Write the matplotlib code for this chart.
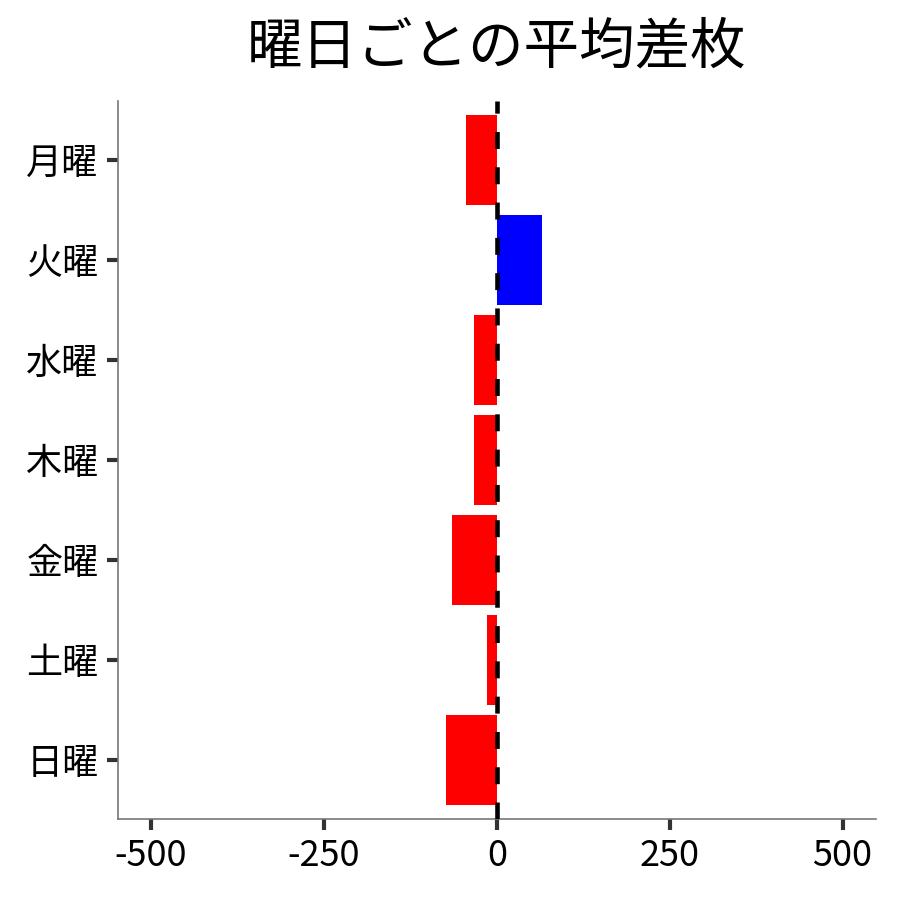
import matplotlib
matplotlib.use("Agg")
import matplotlib.pyplot as plt

plt.rcParams['font.family'] = ['Noto Sans CJK JP', 'DejaVu Sans']

# --- data ---
days = ['月曜', '火曜', '水曜', '木曜', '金曜', '土曜', '日曜']
avg_diff = [-45, 65, -33, -33, -65, -14, -74]
x_ticks = [-500, -250, 0, 250, 500]

colors = ['blue' if v > 0 else 'red' for v in avg_diff]

fig = plt.figure(figsize=(9, 9), dpi=100)
ax = fig.add_axes([0.131, 0.09, 0.842, 0.798])

ypos = list(range(len(days)))
ax.barh(ypos, avg_diff, height=0.9, color=colors, zorder=2)
ax.axvline(0, color='black', linestyle=(0, (3.7, 4.0)), linewidth=3.3, zorder=3)

ax.set_yticks(ypos)
ax.set_yticklabels(days)
ax.set_ylim(len(days) - 1 + 0.59, -0.59)
ax.set_xticks(x_ticks)
ax.set_xticklabels([str(t) for t in x_ticks])
ax.set_xlim(-548, 548)

# Spines: only left and bottom, thin grey
for side in ['top', 'right']:
    ax.spines[side].set_visible(False)
for side in ['left', 'bottom']:
    ax.spines[side].set_color('#777777')
    ax.spines[side].set_linewidth(1.2)

ax.tick_params(axis='both', colors='#333333', length=8, width=3, labelsize=26,
               labelcolor='black', pad=6)

ax.set_title('曜日ごとの平均差枚', fontsize=40, pad=27)

fig.savefig('out.png', dpi=100, facecolor='white')
